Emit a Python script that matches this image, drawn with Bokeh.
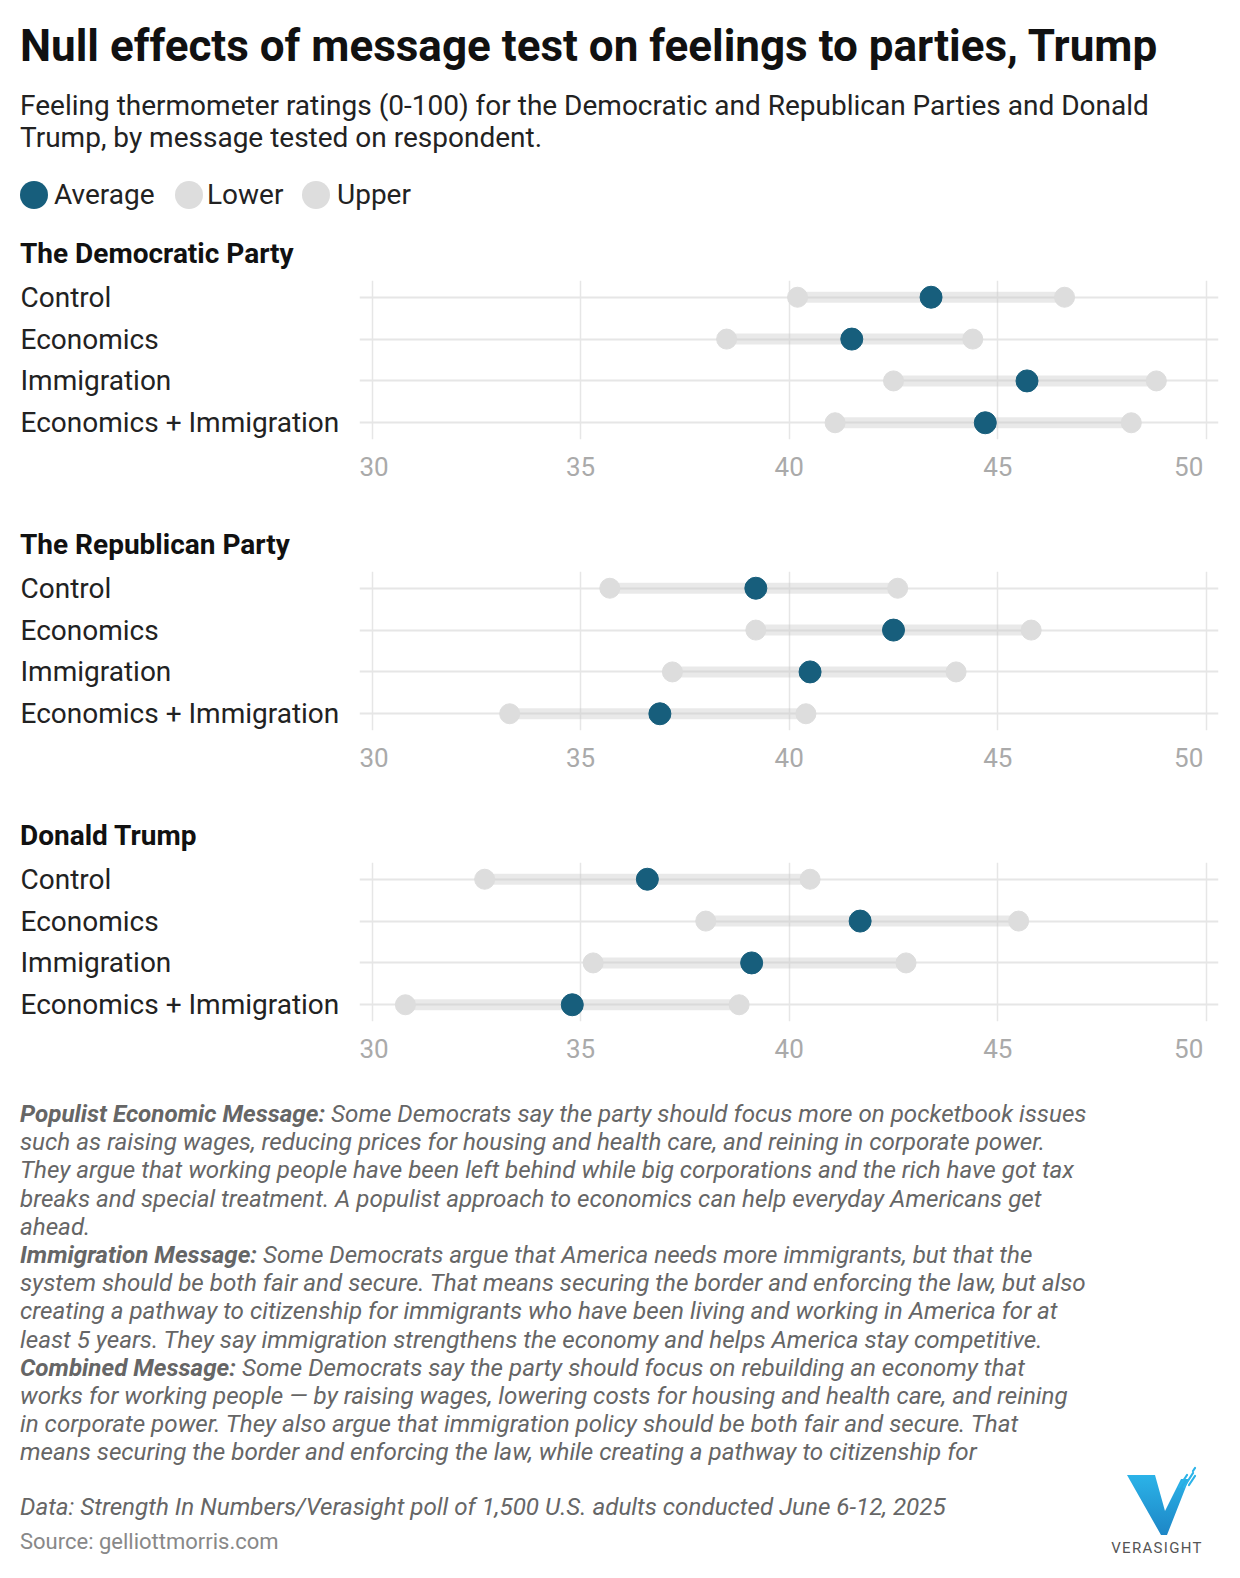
from bokeh.plotting import figure
from bokeh.models import Div, Range1d, FixedTicker, ColumnDataSource
from bokeh.layouts import column, row
from bokeh.embed import file_html
from bokeh.resources import INLINE
from bokeh.core.properties import value

# ---------------- data ----------------
messages = ["Control", "Economics", "Immigration", "Economics + Immigration"]
panel_titles = ["The Democratic Party", "The Republican Party", "Donald Trump"]

dem_avg = [43.4, 41.5, 45.7, 44.7]
dem_lower = [40.2, 38.5, 42.5, 41.1]
dem_upper = [46.6, 44.4, 48.8, 48.2]

rep_avg = [39.2, 42.5, 40.5, 36.9]
rep_lower = [35.7, 39.2, 37.2, 33.3]
rep_upper = [42.6, 45.8, 44.0, 40.4]

trump_avg = [36.6, 41.7, 39.1, 34.8]
trump_lower = [32.7, 38.0, 35.3, 30.8]
trump_upper = [40.5, 45.5, 42.8, 38.8]

x_ticks = [30, 35, 40, 45, 50]
legend_labels = ["Average", "Lower", "Upper"]

AVG_COLOR = "#175e7c"
CI_COLOR = "#dddddd"
FONT = "Roboto"

W = 1224
LEFT_W = 351
TITLE_H = 45
FIG_H = 246
TOP = 10
BOTTOM = 77


def make_panel(title, lower, avg, upper):
    rows = list(range(len(messages)))

    title_div = Div(width=W, height=TITLE_H, margin=0, text=(
        f'<div style="font-family:{FONT};font-size:28px;font-weight:700;color:#111;'
        f'line-height:32px;margin:13px 0 0 12px;white-space:nowrap;">{title}</div>'))

    # ----- label column -----
    lab = figure(width=LEFT_W, height=FIG_H,
                 x_range=Range1d(0, LEFT_W), y_range=Range1d(3.4, -0.4),
                 output_backend="svg", toolbar_location=None,
                 x_axis_location=None, y_axis_location=None,
                 min_border_left=0, min_border_right=0,
                 min_border_top=TOP, min_border_bottom=BOTTOM)
    lab.outline_line_color = None
    lab.xgrid.visible = False
    lab.ygrid.visible = False
    lab.text(x=[0] * len(messages), y=rows, text=messages, x_offset=12,
             text_font=value(FONT), text_font_size="28px",
             text_color="#222222", text_align="left", text_baseline="middle")

    # ----- data figure -----
    src = ColumnDataSource(dict(y=rows, lower=lower, avg=avg, upper=upper))
    p = figure(width=W - LEFT_W, height=FIG_H,
               x_range=Range1d(29.70, 50.29), y_range=Range1d(3.4, -0.4),
               output_backend="svg", toolbar_location=None, y_axis_location=None,
               min_border_left=0, min_border_right=14,
               min_border_top=TOP, min_border_bottom=BOTTOM)
    p.outline_line_color = None
    p.background_fill_color = "white"
    p.border_fill_color = "white"

    p.xgrid.ticker = FixedTicker(ticks=x_ticks)
    p.xgrid.grid_line_color = "#e6e6e6"
    p.xgrid.grid_line_width = 1.5
    p.ygrid.ticker = FixedTicker(ticks=rows)
    p.ygrid.grid_line_color = "#e6e6e6"
    p.ygrid.grid_line_width = 2

    ax = p.xaxis[0]
    ax.ticker = FixedTicker(ticks=x_ticks)
    ax.axis_line_color = None
    ax.major_tick_line_color = None
    ax.minor_tick_line_color = None
    ax.major_label_text_color = "#aaaaaa"
    ax.major_label_text_font = FONT
    ax.major_label_text_font_size = "26px"
    ax.major_label_standoff = 6
    # last label is kept inside the chart edge, as in the original
    ax.major_label_overrides = {x_ticks[-1]: f"{x_ticks[-1]}\u2007\u2007"}

    p.segment(x0="lower", x1="upper", y0="y", y1="y", source=src,
              line_color="#c8c8c8", line_alpha=0.4, line_width=11)
    p.scatter(x="lower", y="y", source=src, size=20,
              fill_color=CI_COLOR, line_color=CI_COLOR)
    p.scatter(x="upper", y="y", source=src, size=20,
              fill_color=CI_COLOR, line_color=CI_COLOR)
    p.scatter(x="avg", y="y", source=src, size=22,
              fill_color=AVG_COLOR, line_color=AVG_COLOR)
    return column(title_div, row(lab, p, spacing=0), spacing=0)


p1 = make_panel(panel_titles[0], dem_lower, dem_avg, dem_upper)
p2 = make_panel(panel_titles[1], rep_lower, rep_avg, rep_upper)
p3 = make_panel(panel_titles[2], trump_lower, trump_avg, trump_upper)

# ---------------- header ----------------
def dot(color, left):
    return (f'<span style="position:absolute;left:{left}px;top:2px;width:28px;height:28px;'
            f'border-radius:50%;background:{color};"></span>')

legend_html = (
    '<div style="position:relative;height:32px;margin:25px 0 0 0;font-size:28px;line-height:32px;color:#222;">'
    + dot(AVG_COLOR, 12)
    + f'<span style="position:absolute;left:46px;top:0;">{legend_labels[0]}</span>'
    + dot(CI_COLOR, 167)
    + f'<span style="position:absolute;left:199px;top:0;">{legend_labels[1]}</span>'
    + dot(CI_COLOR, 294)
    + f'<span style="position:absolute;left:329px;top:0;">{legend_labels[2]}</span>'
    + '</div>'
)

header = Div(width=W, height=217, margin=0, text=(
    f'<div style="font-family:{FONT};width:{W}px;height:217px;overflow:hidden;">'
    '<div style="margin:12px 0 0 12px;font-size:44px;font-weight:700;line-height:52px;color:#111;white-space:nowrap;">'
    'Null effects of message test on feelings to parties, Trump</div>'
    '<div style="margin:18px 0 0 12px;font-size:28px;line-height:32.2px;color:#222;white-space:nowrap;">'
    'Feeling thermometer ratings (0-100) for the Democratic and Republican Parties and Donald<br>'
    'Trump, by message tested on respondent.</div>'
    + legend_html +
    '</div>'
))

# ---------------- notes & footer ----------------
note_lines = [
    '<b>Populist Economic Message:</b> Some Democrats say the party should focus more on pocketbook issues',
    'such as raising wages, reducing prices for housing and health care, and reining in corporate power.',
    'They argue that working people have been left behind while big corporations and the rich have got tax',
    'breaks and special treatment. A populist approach to economics can help everyday Americans get',
    'ahead.',
    '<b>Immigration Message:</b> Some Democrats argue that America needs more immigrants, but that the',
    'system should be both fair and secure. That means securing the border and enforcing the law, but also',
    'creating a pathway to citizenship for immigrants who have been living and working in America for at',
    'least 5 years. They say immigration strengthens the economy and helps America stay competitive.',
    '<b>Combined Message:</b> Some Democrats say the party should focus on rebuilding an economy that',
    'works for working people \u2014 by raising wages, lowering costs for housing and health care, and reining',
    'in corporate power. They also argue that immigration policy should be both fair and secure. That',
    'means securing the border and enforcing the law, while creating a pathway to citizenship for',
]

logo_svg = (
    '<svg style="position:absolute;left:1097px;top:367px;" width="110" height="95" viewBox="0 0 110 95">'
    '<defs><linearGradient id="vg" x1="0" y1="0" x2="0" y2="1">'
    '<stop offset="0" stop-color="#2bb3e8"/><stop offset="1" stop-color="#1d86c6"/></linearGradient></defs>'
    '<polygon points="22,10 50,10 60,46 76,14 84,14 62,70 56,70" fill="url(#vg)"/>'
    '<g stroke="#2bb3e8" stroke-width="2.2" stroke-linecap="round">'
    '<line x1="74" y1="22" x2="82" y2="10"/><line x1="79" y1="22" x2="88" y2="8"/>'
    '<line x1="84" y1="20" x2="90" y2="11"/><line x1="88" y1="6" x2="90" y2="3"/>'
    '</g>'
    '<text x="52" y="88" text-anchor="middle" font-family="Roboto" font-size="15" '
    'letter-spacing="1.3" fill="#555">VERASIGHT</text>'
    '</svg>'
)

footer = Div(width=W, height=472, margin=0, text=(
    f'<div style="position:relative;font-family:{FONT};width:{W}px;height:472px;overflow:hidden;">'
    '<div style="margin:2px 0 0 12px;font-size:24.2px;line-height:28.2px;color:#666;font-style:italic;white-space:nowrap;">'
    + '<br>'.join(note_lines) +
    '</div>'
    '<div style="margin:26px 0 0 12px;font-size:24.2px;line-height:28px;color:#666;font-style:italic;white-space:nowrap;">'
    'Data: Strength In Numbers/Verasight poll of 1,500 U.S. adults conducted June 6-12, 2025</div>'
    '<div style="margin:7px 0 0 12px;font-size:22px;line-height:28px;color:#888;white-space:nowrap;">'
    'Source: gelliottmorris.com</div>'
    + logo_svg +
    '</div>'
))

layout = column(header, p1, p2, p3, footer, spacing=0, margin=(8, 0, 0, 8))

with open("out.html", "w") as f:
    f.write(file_html(layout, INLINE))
